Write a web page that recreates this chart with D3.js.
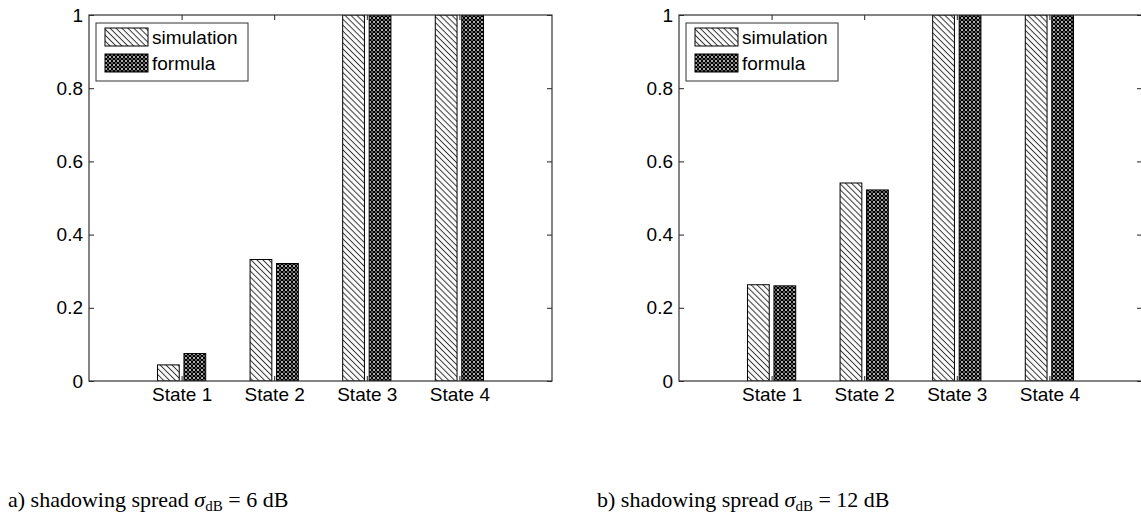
<!DOCTYPE html>
<html>
<head>
<meta charset="utf-8">
<script src="https://cdn.jsdelivr.net/npm/d3@7"></script>
<style>
  html, body { margin: 0; padding: 0; background: #fff; }
  svg { display: block; }
  .tick-label { font-family: "Liberation Sans", Arial, sans-serif; font-size: 19px; fill: #000; }
  .legend-label { font-family: "Liberation Sans", Arial, sans-serif; font-size: 19px; fill: #000; }
  .caption { font-family: "Liberation Serif", "Times New Roman", serif; font-size: 22px; fill: #000; }
</style>
</head>
<body>
<svg id="chart" width="1141" height="516"></svg>
<script>
// Categories, series values and tick labels for the two panels
const categories = ["State 1", "State 2", "State 3", "State 4"];
const seriesNames = ["simulation", "formula"];
const simulation6dB = [0.044, 0.332, 1, 1];
const formula6dB = [0.075, 0.321, 1, 1];
const simulation12dB = [0.263, 0.541, 1, 1];
const formula12dB = [0.260, 0.522, 1, 1];
const yTicks = [0, 0.2, 0.4, 0.6, 0.8, 1];
const yTickLabels = ["0", "0.2", "0.4", "0.6", "0.8", "1"];
const captions = [
  { prefix: "a) shadowing spread ", value: "6" },
  { prefix: "b) shadowing spread ", value: "12" }
];

const svg = d3.select("#chart");
const defs = svg.append("defs");

// Hatch fill for the simulation bars: diagonal lines running top-left to bottom-right
const hatch = defs.append("pattern")
  .attr("id", "hatch")
  .attr("patternUnits", "userSpaceOnUse")
  .attr("width", 4.2).attr("height", 4.2)
  .attr("patternTransform", "rotate(45)");
hatch.append("rect").attr("width", 4.2).attr("height", 4.2).attr("fill", "#fff");
hatch.append("line")
  .attr("x1", 0).attr("y1", 2.1).attr("x2", 4.2).attr("y2", 2.1)
  .attr("stroke", "#333").attr("stroke-width", 1);

// Dense cross-hatch fill for the formula bars
const cross = defs.append("pattern")
  .attr("id", "cross")
  .attr("patternUnits", "userSpaceOnUse")
  .attr("width", 4).attr("height", 4);
cross.append("rect").attr("width", 4).attr("height", 4).attr("fill", "#000");
cross.append("circle").attr("cx", 2).attr("cy", 2).attr("r", 1.0).attr("fill", "#e8e8e8");
[[0, 0], [4, 0], [0, 4], [4, 4]].forEach(([cx, cy]) =>
  cross.append("circle").attr("cx", cx).attr("cy", cy).attr("r", 0.9).attr("fill", "#8a8a8a"));

const fills = ["url(#hatch)", "url(#cross)"];

function drawPanel(g, left, right, top, bottom, simVals, formVals, id) {
  const x = d3.scaleLinear().domain([0, categories.length + 1]).range([left, right]);
  const y = d3.scaleLinear().domain([0, 1]).range([bottom, top]);
  const barOffset = 0.143;   // group offset of each series, in category units
  const barWidth = 0.235;    // bar width, in category units
  const unit = x(1) - x(0);

  defs.append("clipPath").attr("id", "clip" + id)
    .append("rect").attr("x", left).attr("y", top)
    .attr("width", right - left).attr("height", bottom - top);

  const series = [simVals, formVals];
  const bars = g.append("g").attr("clip-path", `url(#clip${id})`);
  series.forEach((vals, s) => {
    bars.selectAll(null)
      .data(vals)
      .enter().append("rect")
      .attr("x", (d, i) => x(i + 1) + (s === 0 ? -barOffset : barOffset) * unit - barWidth * unit / 2)
      .attr("y", d => y(d))
      .attr("width", barWidth * unit)
      .attr("height", d => y(0) - y(d))
      .attr("fill", fills[s])
      .attr("stroke", "#000")
      .attr("stroke-width", 1);
  });

  // Axes: left with labels, others bare; ticks point inward
  const tickLen = 5;
  const leftAxis = d3.axisLeft(y).tickValues(yTicks)
    .tickFormat((d, i) => yTickLabels[i]).tickSizeInner(-tickLen).tickSizeOuter(0).tickPadding(6);
  const ga = g.append("g").attr("transform", `translate(${left},0)`).call(leftAxis);
  ga.selectAll("text").attr("class", "tick-label").attr("font-family", null).attr("font-size", null);

  const rightAxis = d3.axisRight(y).tickValues(yTicks).tickFormat("").tickSizeInner(-tickLen).tickSizeOuter(0);
  g.append("g").attr("transform", `translate(${right},0)`).call(rightAxis);

  const catTicks = d3.range(1, categories.length + 1);
  const bottomAxis = d3.axisBottom(x).tickValues(catTicks)
    .tickFormat((d) => categories[d - 1]).tickSizeInner(-tickLen).tickSizeOuter(0).tickPadding(7);
  const gb = g.append("g").attr("transform", `translate(0,${bottom})`).call(bottomAxis);
  gb.selectAll("text").attr("class", "tick-label").attr("font-family", null).attr("font-size", null);

  const topAxis = d3.axisTop(x).tickValues(catTicks).tickFormat("").tickSizeInner(-tickLen).tickSizeOuter(0);
  g.append("g").attr("transform", `translate(0,${top})`).call(topAxis);

  g.selectAll(".domain").remove();
  g.selectAll(".tick line").attr("stroke", "#222");

  // Box frame
  g.append("rect").attr("x", left).attr("y", top)
    .attr("width", right - left).attr("height", bottom - top)
    .attr("fill", "none").attr("stroke", "#333").attr("stroke-width", 1.2);

  // Legend
  const lg = g.append("g").attr("transform", `translate(${left + 7},${top + 8})`);
  lg.append("rect").attr("x", 0).attr("y", 0).attr("width", 152).attr("height", 58)
    .attr("fill", "#fff").attr("stroke", "#333").attr("stroke-width", 1);
  seriesNames.forEach((name, i) => {
    const yy = 5 + i * 26;
    lg.append("rect").attr("x", 9).attr("y", yy).attr("width", 43).attr("height", 18)
      .attr("fill", fills[i]).attr("stroke", "#000").attr("stroke-width", 1);
    lg.append("text").attr("class", "legend-label")
      .attr("x", 56).attr("y", yy + 16).text(name);
  });
}

drawPanel(svg.append("g"), 89, 552, 15, 381, simulation6dB, formula6dB, "a");
drawPanel(svg.append("g"), 679, 1142, 15, 381, simulation12dB, formula12dB, "b");

// Captions under each panel
const capX = [8, 597];
captions.forEach((c, i) => {
  const t = svg.append("text").attr("class", "caption").attr("x", capX[i]).attr("y", 507);
  t.append("tspan").text(c.prefix);
  t.append("tspan").attr("font-style", "italic").text("σ");
  t.append("tspan").attr("font-size", "15px").attr("dy", 4).text("dB");
  t.append("tspan").attr("dy", -4).text(" = " + c.value + " dB");
});
</script>
</body>
</html>
